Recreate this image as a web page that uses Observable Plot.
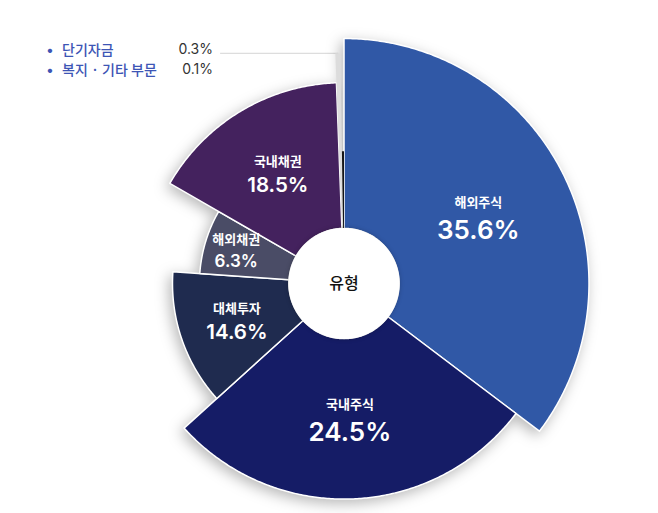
<!DOCTYPE html>
<html>
<head>
<meta charset="utf-8">
<script src="https://cdn.jsdelivr.net/npm/d3@7"></script>
<script src="https://cdn.jsdelivr.net/npm/@observablehq/plot@0.6"></script>
<style>
  body { margin: 0; background: #fff; font-family: Inter, "Noto Sans CJK KR", "Noto Sans", sans-serif; }
  #wrap { position: relative; width: 658px; height: 513px; overflow: hidden; }
  #legend { position: absolute; left: 46px; top: 39px; font-size: 14px; }
  #legend .row { position: relative; height: 20px; line-height: 20px; width: 167px; white-space: nowrap; }
  #legend .dot { color: #3d55b5; display: inline-block; width: 16px; }
  #legend .nm { color: #3d55b5; font-weight: 500; font-family: "Noto Sans CJK KR", sans-serif; }
  #legend .val { position: absolute; right: 0; top: 0; color: #333; font-weight: 400; font-family: Inter, sans-serif; }
</style>
</head>
<body>
<div id="wrap">
  <div id="chart"></div>
  <div id="legend"></div>
</div>
<script>
// ---- data ----
const categories = ["해외주식", "국내주식", "대체투자", "해외채권", "국내채권", "단기자금", "복지 · 기타 부문"];
const values     = [35.6, 24.5, 14.6, 6.3, 18.5, 0.3, 0.1];
// angular share of the circle each slice takes as drawn (percent)
const sweep      = [35.3, 28.0, 12.8, 7.2, 16.1, 0.35, 0.25];
// radial reach of each slice as drawn (percent of the longest)
const reach      = [100, 88, 70, 59, 82, 94, 54];
const colors     = ["#3058a6", "#151c66", "#1f2b4f", "#4a4c66", "#44225e", "#dcdcdc", "#151515"];
const hole       = 22.5;   // inner radius, percent of the longest
const centerLabel = "유형";
const minorCount = 2;      // last entries are listed in the legend

// ---- layout ----
const W = 658, H = 513, cx = 343.5, cy = 283, unit = 2.45;
const polar = (r, a) => ({x: r * Math.sin(a), y: r * Math.cos(a)});

let cum = 0;
const slices = categories.map((name, i) => {
  const a0 = cum / 100 * 2 * Math.PI; cum += sweep[i];
  const a1 = cum / 100 * 2 * Math.PI;
  return {name, i, a0, a1, mid: (a0 + a1) / 2, r0: hole, r1: reach[i]};
});
const ringOf = (s) => {
  const n = Math.max(2, Math.ceil((s.a1 - s.a0) / (Math.PI / 360)));
  const ring = [];
  for (let k = 0; k <= n; k++) ring.push(polar(s.r1, s.a0 + (s.a1 - s.a0) * k / n));
  for (let k = n; k >= 0; k--) ring.push(polar(s.r0, s.a0 + (s.a1 - s.a0) * k / n));
  ring.push(ring[0]);
  return ring.map(p => ({...p, name: s.name}));
};
const nMajor = categories.length - minorCount;
const majorPts = slices.slice(0, nMajor).flatMap(ringOf);
const minorPts = slices.slice(nMajor).flatMap(ringOf);

const circlePts = d3.range(0, 361, 2).map(d => ({...polar(hole + 0.2, d * Math.PI / 180), name: "c"}));

const labels = slices.slice(0, nMajor).map(s => {
  const r = Math.max(s.r0 + 0.5 * (s.r1 - s.r0), 46);
  const v = values[s.i];
  return {...polar(r, s.mid), name: s.name, label: v.toFixed(1) + "%",
          size: v >= 20 ? 26 : v >= 10 ? 20.5 : 17};
});
const sizes = [...new Set(labels.map(d => d.size))];

// leader line from the 단기자금 slice tip to the legend
const tipSlice = slices[nMajor];
const tip = polar(tipSlice.r1, tipSlice.mid);
const leader = [{x: (220 - cx) / unit, y: tip.y}, {x: tip.x, y: tip.y}];

const krFont = '"Noto Sans CJK KR", "Noto Sans", sans-serif';
const numFont = 'Inter, "Noto Sans CJK KR", sans-serif';
const nameSize = 13;
const textMarks = sizes.flatMap(sz => {
  const grp = labels.filter(d => d.size === sz);
  const sep = 0.6 * nameSize + 0.66 * sz + 2.5;
  return [
    Plot.text(grp, {x: "x", y: "y", text: "name", fill: "white", fontSize: nameSize, fontWeight: 700, dy: -sep / 2, fontFamily: krFont}),
    Plot.text(grp, {x: "x", y: "y", text: "label", fill: "white", fontSize: sz, fontWeight: 600, dy: sep / 2, fontFamily: numFont})
  ];
});

const chart = Plot.plot({
  width: W, height: H, margin: 0,
  x: {domain: [-cx / unit, (W - cx) / unit], axis: null},
  y: {domain: [-(H - cy) / unit, cy / unit], axis: null},
  color: {domain: categories, range: colors},
  style: {background: "transparent", fontFamily: krFont},
  marks: [
    Plot.line(leader, {x: "x", y: "y", stroke: "#d4d4d4", strokeWidth: 1}),
    Plot.line(majorPts, {x: "x", y: "y", z: "name", fill: "name", stroke: "white", strokeWidth: 1.5,
      strokeLinejoin: "round", imageFilter: "drop-shadow(-3px 4px 7px rgba(0,0,0,0.28))"}),
    Plot.line(minorPts, {x: "x", y: "y", z: "name", fill: "name", stroke: "none"}),
    Plot.line(circlePts, {x: "x", y: "y", fill: "white", stroke: "none",
      imageFilter: "drop-shadow(0px 0px 2px rgba(0,0,0,0.25))"}),
    Plot.text([{x: 0, y: 0}], {x: "x", y: "y", text: () => centerLabel, fill: "#111", fontSize: 16, fontWeight: 500, fontFamily: krFont}),
    ...textMarks
  ]
});
document.getElementById("chart").appendChild(chart);

// legend for the tiny slices
const lg = document.getElementById("legend");
for (let i = nMajor; i < categories.length; i++) {
  const row = document.createElement("div");
  row.className = "row";
  row.innerHTML = `<span class="dot">•</span><span class="nm">${categories[i]}</span><span class="val">${values[i].toFixed(1)}%</span>`;
  lg.appendChild(row);
}
</script>
</body>
</html>
